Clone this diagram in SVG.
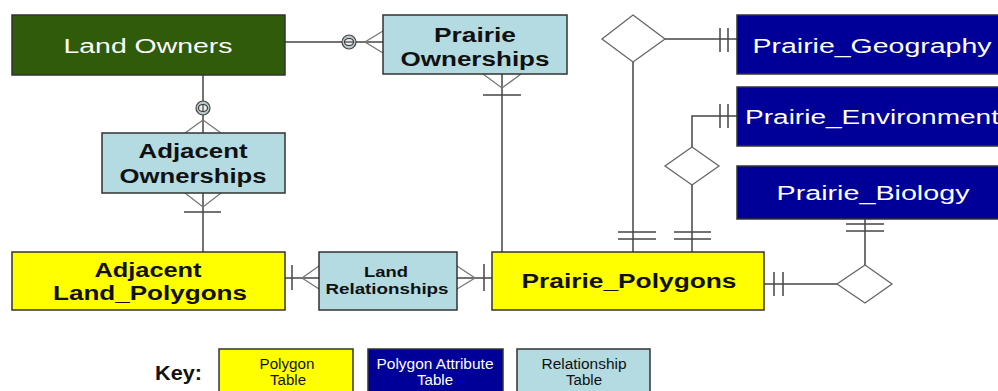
<svg xmlns="http://www.w3.org/2000/svg" width="998" height="391" viewBox="0 0 998 391">
<style>
.box{stroke:#333;stroke-width:1.5}
.green{fill:#2f5b0b}
.navy{fill:#000099}
.lb{fill:#b3dbe1}
.yel{fill:#ffff00}
.t{font-family:"Liberation Sans",Arial,sans-serif;font-size:20px;text-anchor:middle}
.w{fill:#ffffff}
.k{fill:#111;font-weight:bold}
.small{font-family:"Liberation Sans",Arial,sans-serif;font-size:14px;text-anchor:middle}
.ln{stroke:#444;stroke-width:1.5;fill:none}
.cf{stroke:#777;stroke-width:1.3;fill:none}
.dia{fill:#fff;stroke:#666;stroke-width:1.3}
.circ{fill:#b9c6c9;stroke:#444;stroke-width:1.2}
.ic{fill:#e8eeee;stroke:#333;stroke-width:1.1}
</style>
<rect width="998" height="391" fill="#fff"/>
<g id="connectors">
  <line class="ln" x1="285" y1="42" x2="342" y2="42"/>
  <line class="ln" x1="356" y1="42" x2="383" y2="42"/>
  <polyline class="cf" points="383,31 365,42 383,53"/>
  <line class="ln" x1="203" y1="75" x2="203" y2="101"/>
  <line class="ln" x1="203" y1="115" x2="203" y2="133"/>
  <polyline class="cf" points="185,133 203,120 221,133"/>
  <line class="ln" x1="203" y1="193" x2="203" y2="252"/>
  <polyline class="cf" points="185,193 203,207 221,193"/>
  <line class="ln" x1="184" y1="212" x2="221" y2="212"/>
  <line class="ln" x1="502" y1="74" x2="502" y2="252"/>
  <polyline class="cf" points="483,74 502,88 521,74"/>
  <line class="ln" x1="483" y1="95" x2="521" y2="95"/>
  <line class="ln" x1="285" y1="278" x2="319" y2="278"/>
  <line class="ln" x1="292" y1="265" x2="292" y2="290"/>
  <polyline class="cf" points="319,266 302,278 319,289"/>
  <line class="ln" x1="457" y1="278" x2="492" y2="278"/>
  <polyline class="cf" points="457,266 475,278 457,289"/>
  <line class="ln" x1="484" y1="264" x2="484" y2="291"/>
  <line class="ln" x1="665" y1="39" x2="737" y2="39"/>
  <line class="ln" x1="720" y1="28" x2="720" y2="52"/>
  <line class="ln" x1="728" y1="28" x2="728" y2="52"/>
  <line class="ln" x1="633" y1="62" x2="633" y2="252"/>
  <line class="ln" x1="618" y1="232" x2="656" y2="232"/>
  <line class="ln" x1="618" y1="239" x2="656" y2="239"/>
  <polyline class="ln" points="737,116 692,116 692,147"/>
  <line class="ln" x1="720" y1="104" x2="720" y2="128"/>
  <line class="ln" x1="728" y1="104" x2="728" y2="128"/>
  <line class="ln" x1="692" y1="185" x2="692" y2="252"/>
  <line class="ln" x1="674" y1="232" x2="711" y2="232"/>
  <line class="ln" x1="674" y1="239" x2="711" y2="239"/>
  <line class="ln" x1="865" y1="219" x2="865" y2="265"/>
  <line class="ln" x1="846" y1="224" x2="884" y2="224"/>
  <line class="ln" x1="846" y1="231" x2="884" y2="231"/>
  <line class="ln" x1="764" y1="284" x2="837" y2="284"/>
  <line class="ln" x1="774" y1="272" x2="774" y2="296"/>
  <line class="ln" x1="783" y1="272" x2="783" y2="296"/>
  <polygon class="dia" points="633,15 665,39 633,62 602,39"/>
  <polygon class="dia" points="692,147 719,166 692,185 665,166"/>
  <polygon class="dia" points="865,265 892,284 865,303 837,284"/>
  <circle class="circ" cx="349" cy="42" r="7"/>
  <ellipse class="ic" cx="349" cy="42" rx="4.5" ry="3.5"/>
  <line x1="345" y1="42" x2="353" y2="42" stroke="#333" stroke-width="1.1"/>
  <circle class="circ" cx="203" cy="108" r="7"/>
  <ellipse class="ic" cx="203" cy="108" rx="4.5" ry="3.5"/>
  <line x1="203" y1="105" x2="203" y2="111" stroke="#333" stroke-width="1.1"/>
</g>
<g id="land-owners">
  <rect class="box green" x="12" y="15" width="273" height="60"/>
  <text class="t w" x="148" y="53" textLength="169" lengthAdjust="spacingAndGlyphs">Land Owners</text>
</g>
<g id="prairie-ownerships">
  <rect class="box lb" x="383" y="15" width="184" height="59"/>
  <text class="t k" x="475" y="42" textLength="82" lengthAdjust="spacingAndGlyphs">Prairie</text>
  <text class="t k" x="475" y="66" textLength="149" lengthAdjust="spacingAndGlyphs">Ownerships</text>
</g>
<g id="adjacent-ownerships">
  <rect class="box lb" x="102" y="133" width="183" height="60"/>
  <text class="t k" x="193" y="158" textLength="109" lengthAdjust="spacingAndGlyphs">Adjacent</text>
  <text class="t k" x="193" y="183" textLength="147" lengthAdjust="spacingAndGlyphs">Ownerships</text>
</g>
<g id="adjacent-land-polygons">
  <rect class="box yel" x="12" y="252" width="273" height="58"/>
  <text class="t k" x="148" y="277" textLength="107" lengthAdjust="spacingAndGlyphs">Adjacent</text>
  <text class="t k" x="150" y="300" textLength="194" lengthAdjust="spacingAndGlyphs">Land_Polygons</text>
</g>
<g id="land-relationships">
  <rect class="box lb" x="319" y="252" width="138" height="58"/>
  <text class="k" x="386" y="277" font-family="Liberation Sans, Arial, sans-serif" font-size="15" text-anchor="middle" textLength="44" lengthAdjust="spacingAndGlyphs">Land</text>
  <text class="k" x="387" y="294" font-family="Liberation Sans, Arial, sans-serif" font-size="15" text-anchor="middle" textLength="123" lengthAdjust="spacingAndGlyphs">Relationships</text>
</g>
<g id="prairie-polygons">
  <rect class="box yel" x="492" y="252" width="272" height="58"/>
  <text class="t k" x="629" y="288" textLength="215" lengthAdjust="spacingAndGlyphs">Prairie_Polygons</text>
</g>
<g id="prairie-geography">
  <rect class="box navy" x="737" y="15" width="265" height="59"/>
  <text class="t w" x="872" y="53" textLength="239" lengthAdjust="spacingAndGlyphs">Prairie_Geography</text>
</g>
<g id="prairie-environment">
  <rect class="box navy" x="737" y="87" width="265" height="59"/>
  <text class="t w" x="872" y="124" textLength="254" lengthAdjust="spacingAndGlyphs">Prairie_Environment</text>
</g>
<g id="prairie-biology">
  <rect class="box navy" x="737" y="166" width="265" height="53"/>
  <text class="t w" x="873" y="200" textLength="193" lengthAdjust="spacingAndGlyphs">Prairie_Biology</text>
</g>
<g id="key">
  <text x="155" y="380" font-family="Liberation Sans, Arial, sans-serif" font-size="21" font-weight="bold" fill="#111" textLength="47" lengthAdjust="spacingAndGlyphs">Key:</text>
  <rect class="box yel" x="219" y="349" width="134" height="46"/>
  <text class="small" x="287" y="369" fill="#111" textLength="55" lengthAdjust="spacingAndGlyphs">Polygon</text>
  <text class="small" x="288" y="385" fill="#111" textLength="36" lengthAdjust="spacingAndGlyphs">Table</text>
  <rect class="box navy" x="368" y="349" width="135" height="46"/>
  <text class="small" x="435" y="369" fill="#fff" textLength="117" lengthAdjust="spacingAndGlyphs">Polygon Attribute</text>
  <text class="small" x="435" y="385" fill="#fff" textLength="36" lengthAdjust="spacingAndGlyphs">Table</text>
  <rect class="box lb" x="517" y="349" width="133" height="46"/>
  <text class="small" x="584" y="369" fill="#111" textLength="85" lengthAdjust="spacingAndGlyphs">Relationship</text>
  <text class="small" x="584" y="385" fill="#111" textLength="36" lengthAdjust="spacingAndGlyphs">Table</text>
</g>
</svg>
